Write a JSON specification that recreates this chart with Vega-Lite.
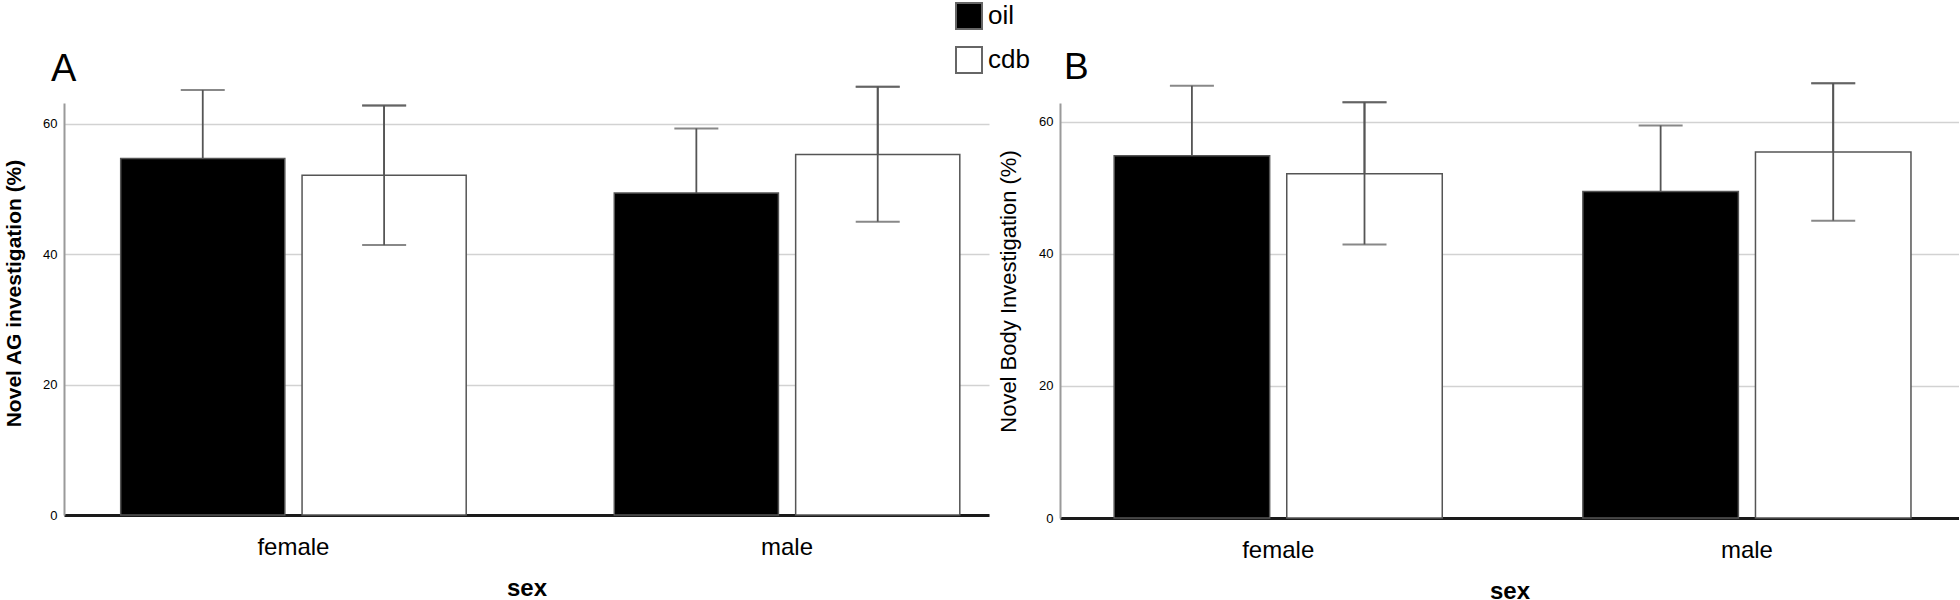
{
  "$schema": "https://vega.github.io/schema/vega-lite/v6.json",
  "background": "white",
  "padding": {"left": 3, "top": 2, "right": 0, "bottom": 0},
  "config": {
    "font": "Liberation Sans",
    "view": {"stroke": null},
    "concat": {"spacing": 8},
    "axisY": {
      "ticks": false,
      "domainColor": "#9a9a9a",
      "domainWidth": 2,
      "gridColor": "#d2d2d2",
      "gridWidth": 1.5,
      "labelFontSize": 13,
      "labelColor": "#000",
      "labelPadding": 7,
      "titleColor": "#000",
      "titleFontSize": 21,
      "titlePadding": 18
    },
    "axisX": {
      "ticks": false,
      "domainColor": "#1a1a1a",
      "domainWidth": 3,
      "labelFontSize": 24,
      "labelColor": "#000",
      "labelPadding": 20,
      "labelAngle": 0,
      "titleColor": "#000",
      "titleFontSize": 24,
      "titleFontWeight": "bold",
      "titlePadding": 17
    },
    "legend": {
      "orient": "none",
      "legendX": 891,
      "legendY": -101,
      "padding": 0,
      "title": null,
      "symbolType": "square",
      "symbolSize": 676,
      "symbolStrokeColor": "#666",
      "symbolStrokeWidth": 2,
      "labelFontSize": 26,
      "labelColor": "#000",
      "labelOffset": 5,
      "rowPadding": 10
    }
  },
  "datasets": {
    "ag": [
      {"sex": "female", "treatment": "oil", "mean": 54.7, "lo": 44.2, "hi": 65.2},
      {"sex": "female", "treatment": "cdb", "mean": 52.1, "lo": 41.4, "hi": 62.8},
      {"sex": "male", "treatment": "oil", "mean": 49.4, "lo": 39.5, "hi": 59.3},
      {"sex": "male", "treatment": "cdb", "mean": 55.3, "lo": 45.0, "hi": 65.7}
    ],
    "body": [
      {"sex": "female", "treatment": "oil", "mean": 54.8, "lo": 44.2, "hi": 65.4},
      {"sex": "female", "treatment": "cdb", "mean": 52.1, "lo": 41.4, "hi": 62.9},
      {"sex": "male", "treatment": "oil", "mean": 49.4, "lo": 39.4, "hi": 59.4},
      {"sex": "male", "treatment": "cdb", "mean": 55.4, "lo": 45.0, "hi": 65.8}
    ]
  },
  "resolve": {
    "scale": {"color": "shared", "x": "independent", "xOffset": "independent", "y": "independent"},
    "legend": {"color": "shared"}
  },
  "hconcat": [
    {
      "title": {"text": "A", "anchor": "start", "frame": "group", "fontSize": 38, "fontWeight": "normal", "color": "#000", "dx": -13, "offset": -3},
      "width": 925,
      "height": 412,
      "data": {"name": "ag"},
      "encoding": {
        "x": {"field": "sex", "type": "nominal", "title": "sex",
              "scale": {"paddingInner": 0.3, "paddingOuter": 0.087, "align": 0.66}},
        "xOffset": {"field": "treatment", "type": "nominal", "sort": ["oil", "cdb"],
                    "scale": {"paddingInner": 0.095, "paddingOuter": 0}}
      },
      "layer": [
        {
          "mark": {"type": "rule", "color": "#555", "strokeWidth": 1.8},
          "encoding": {"y": {"field": "lo", "type": "quantitative", "title": "Novel AG investigation (%)",
                  "scale": {"domain": [0, 63.2], "nice": false},
                  "axis": {"values": [0, 20, 40, 60], "titleFontWeight": "bold", "titleY": 190}}, "y2": {"field": "hi"}}
        },
        {
          "mark": {"type": "tick", "color": "#555", "thickness": 2, "size": 44},
          "encoding": {"y": {"field": "hi", "type": "quantitative"}}
        },
        {
          "mark": {"type": "bar", "stroke": "#555", "strokeWidth": 1.5},
          "encoding": {
            "y": {"field": "mean", "type": "quantitative"},
            "color": {"field": "treatment", "type": "nominal", "sort": ["oil", "cdb"],
                      "scale": {"domain": ["oil", "cdb"], "range": ["#000000", "#ffffff"]}}
          }
        },
        {
          "transform": [{"filter": "datum.treatment === 'cdb'"}],
          "mark": {"type": "rule", "color": "#555", "strokeWidth": 1.8},
          "encoding": {"y": {"field": "lo", "type": "quantitative"}, "y2": {"field": "hi"}}
        },
        {
          "transform": [{"filter": "datum.treatment === 'cdb'"}],
          "mark": {"type": "tick", "color": "#555", "thickness": 2, "size": 44},
          "encoding": {"y": {"field": "hi", "type": "quantitative"}}
        },
        {
          "transform": [{"filter": "datum.treatment === 'cdb'"}],
          "mark": {"type": "tick", "color": "#555", "thickness": 2, "size": 44},
          "encoding": {"y": {"field": "lo", "type": "quantitative"}}
        }
      ]
    },
    {
      "title": {"text": "B", "anchor": "start", "frame": "group", "fontSize": 37, "fontWeight": "normal", "color": "#000", "dx": 4, "offset": -5},
      "width": 899,
      "height": 415,
      "data": {"name": "body"},
      "encoding": {
        "x": {"field": "sex", "type": "nominal", "title": "sex",
              "scale": {"paddingInner": 0.3, "paddingOuter": 0.109, "align": 0.53}},
        "xOffset": {"field": "treatment", "type": "nominal", "sort": ["oil", "cdb"],
                    "scale": {"paddingInner": 0.099, "paddingOuter": 0}}
      },
      "layer": [
        {
          "mark": {"type": "rule", "color": "#555", "strokeWidth": 1.8},
          "encoding": {"y": {"field": "lo", "type": "quantitative", "title": "Novel Body Investigation (%)",
                  "scale": {"domain": [0, 62.8], "nice": false},
                  "axis": {"values": [0, 20, 40, 60], "titleFontWeight": "normal", "titleFontSize": 22, "titleY": 188}}, "y2": {"field": "hi"}}
        },
        {
          "mark": {"type": "tick", "color": "#555", "thickness": 2, "size": 44},
          "encoding": {"y": {"field": "hi", "type": "quantitative"}}
        },
        {
          "mark": {"type": "bar", "stroke": "#555", "strokeWidth": 1.5},
          "encoding": {
            "y": {"field": "mean", "type": "quantitative"},
            "color": {"field": "treatment", "type": "nominal", "sort": ["oil", "cdb"],
                      "scale": {"domain": ["oil", "cdb"], "range": ["#000000", "#ffffff"]}}
          }
        },
        {
          "transform": [{"filter": "datum.treatment === 'cdb'"}],
          "mark": {"type": "rule", "color": "#555", "strokeWidth": 1.8},
          "encoding": {"y": {"field": "lo", "type": "quantitative"}, "y2": {"field": "hi"}}
        },
        {
          "transform": [{"filter": "datum.treatment === 'cdb'"}],
          "mark": {"type": "tick", "color": "#555", "thickness": 2, "size": 44},
          "encoding": {"y": {"field": "hi", "type": "quantitative"}}
        },
        {
          "transform": [{"filter": "datum.treatment === 'cdb'"}],
          "mark": {"type": "tick", "color": "#555", "thickness": 2, "size": 44},
          "encoding": {"y": {"field": "lo", "type": "quantitative"}}
        }
      ]
    }
  ]
}
